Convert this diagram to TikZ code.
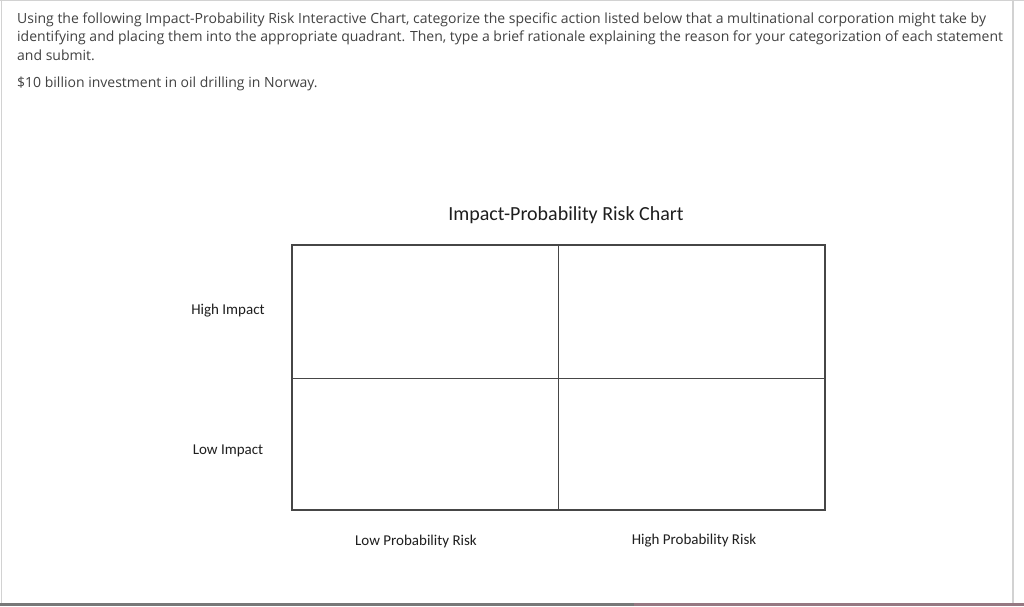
\documentclass[tikz,border=0pt]{standalone}
\usepackage{fontspec}
\usepackage{xcolor}
\usepackage{tikz}
\usetikzlibrary{positioning, calc}
\setmainfont{Open Sans}
\newfontfamily\calibri{Carlito}
\definecolor{pagegray}{RGB}{210, 210, 210}
\definecolor{promptgray}{RGB}{66, 66, 66}
\definecolor{gridgray}{RGB}{70, 70, 70}
\definecolor{chartdark}{RGB}{30, 30, 30}
\definecolor{stripgray}{RGB}{120, 120, 120}
\definecolor{stripmauve}{RGB}{150, 120, 130}

\begin{document}
\begin{tikzpicture}[x=1pt, y=-1pt,
    prompt/.style={anchor=west, inner sep=0pt, font=\fontsize{14}{16}\selectfont, text=promptgray},
    axislabel/.style={inner sep=0pt, font=\calibri\fontsize{15}{17}\selectfont, text=chartdark}]
    % Page and frame
    \useasboundingbox (0, 0) rectangle (1024, 606);
    \fill[white] (0, 0) rectangle (1024, 606);
    \fill[stripgray] (0, 603) rectangle (1024, 606);
    \fill[stripmauve] (634, 603) rectangle (1024, 606);
    \draw[pagegray, line width=1.5pt] (1.5, 0) -- (1.5, 603);
    \draw[pagegray, line width=1pt] (0, 0.5) -- (1024, 0.5);
    \draw[pagegray, line width=1.5pt] (1013, 0) -- (1013, 603);

    % Prompt text
    \node[prompt] (line1) at (17, 20) {Using the following Impact-Probability Risk Interactive Chart, categorize the specific action listed below that a multinational corporation might take by};
    \node[prompt] (line2) at (17, 38) {identifying and placing them into the appropriate quadrant. Then, type a brief rationale explaining the reason for your categorization of each statement};
    \node[prompt] (line3) at (17, 55) {and submit.};
    \node[prompt] (action) at (17, 84) {\$10 billion investment in oil drilling in Norway.};

    % Title
    \node[inner sep=0pt, font=\calibri\fontsize{20}{23}\selectfont, text=chartdark] (title) at (566, 215) {Impact-Probability Risk Chart};

    % Quadrant grid
    \coordinate (tl) at (292, 245);
    \coordinate (br) at (825, 510);
    \draw[gridgray, line width=1.1pt] (tl) rectangle (br);
    \draw[gridgray, line width=1pt] (558, 245) -- (558, 510);
    \draw[gridgray, line width=1pt] (292, 378) -- (825, 378);

    % Axis labels
    \node[axislabel] (highimpact) at (228, 311) {High Impact};
    \node[axislabel] (lowimpact) at (228, 451) {Low Impact};
    \node[axislabel] (lowprob) at (416, 541) {Low Probability Risk};
    \node[axislabel] (highprob) at (694, 541) {High Probability Risk};
\end{tikzpicture}
\end{document}
